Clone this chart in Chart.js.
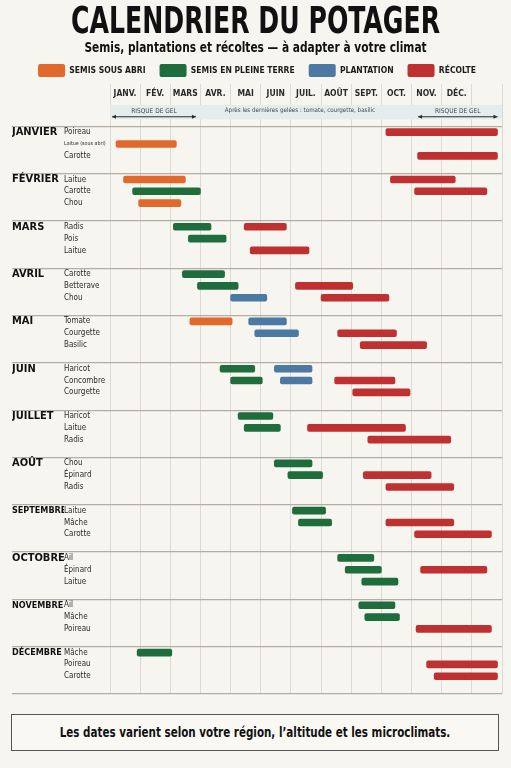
<!DOCTYPE html>
<html lang="fr">
<head>
<meta charset="utf-8">
<title>Calendrier du potager</title>
<script src="https://cdn.jsdelivr.net/npm/chart.js@4.4.1/dist/chart.umd.min.js"></script>
<style>
    body { margin: 0; background: #f7f5ef; font-family: "DejaVu Sans Condensed", "DejaVu Sans", sans-serif; }
    #wrap { position: relative; width: 511px; height: 702px; }
    .head { position: absolute; left: 0; width: 511px; text-align: center; font-weight: bold; color: #111; white-space: nowrap; }
    #title { top: 5px; font-size: 28px; line-height: 32px; transform: scaleY(1.3); }
    #sub { top: 38px; font-size: 11.8px; line-height: 18px; transform: scaleY(1.25); }
    #note {
        position: absolute; left: 11px; top: 714px; width: 486px; height: 35px;
        border: 1.5px solid #555; background: #faf8f3;
        font-size: 11.5px; font-weight: bold;
        color: #111; text-align: center; line-height: 35px;
    }
    #note span { display: inline-block; transform: scaleY(1.2); }
</style>
</head>
<body>
<div id="wrap">
    <canvas id="diagram"></canvas>
    <div class="head" id="title">CALENDRIER DU POTAGER</div>
    <div class="head" id="sub">Semis, plantations et récoltes — à adapter à votre climat</div>
</div>
<div id="note"><span>Les dates varient selon votre région, l’altitude et les microclimats.</span></div>
<script>
const NARROW = '"DejaVu Sans Condensed", "DejaVu Sans", sans-serif';

const months = ['JANV.', 'FÉV.', 'MARS', 'AVR.', 'MAI', 'JUIN', 'JUIL.', 'AOÛT', 'SEPT.', 'OCT.', 'NOV.', 'DÉC.'];
const groups = ['JANVIER', 'FÉVRIER', 'MARS', 'AVRIL', 'MAI', 'JUIN', 'JUILLET', 'AOÛT', 'SEPTEMBRE', 'OCTOBRE', 'NOVEMBRE', 'DÉCEMBRE'];
const crops = [
    ['Poireau', 'Laitue (sous abri)', 'Carotte'],
    ['Laitue', 'Carotte', 'Chou'],
    ['Radis', 'Pois', 'Laitue'],
    ['Carotte', 'Betterave', 'Chou'],
    ['Tomate', 'Courgette', 'Basilic'],
    ['Haricot', 'Concombre', 'Courgette'],
    ['Haricot', 'Laitue', 'Radis'],
    ['Chou', 'Épinard', 'Radis'],
    ['Laitue', 'Mâche', 'Carotte'],
    ['Ail', 'Épinard', 'Laitue'],
    ['Ail', 'Mâche', 'Poireau'],
    ['Mâche', 'Poireau', 'Carotte']
];

// [ligne (0-35), début, fin] en mois depuis le 1er janvier
const semisAbri = [
    [1, 0.2, 2.2], [3, 0.45, 2.5], [5, 0.95, 2.35], [12, 2.65, 4.05]
];
const semisTerre = [
    [4, 0.75, 3.0], [6, 2.1, 3.35], [7, 2.6, 3.85], [9, 2.4, 3.8], [10, 2.9, 4.25],
    [15, 3.65, 4.8], [16, 4.0, 5.05], [18, 4.25, 5.4], [19, 4.45, 5.65],
    [21, 5.45, 6.7], [22, 5.9, 7.05], [24, 6.05, 7.15], [25, 6.25, 7.35],
    [27, 7.55, 8.75], [28, 7.8, 9.0], [29, 8.35, 9.55], [30, 8.25, 9.45], [31, 8.45, 9.6],
    [33, 0.9, 2.05]
];
const plantation = [
    [11, 4.0, 5.2], [12, 4.6, 5.85], [13, 4.8, 6.25], [15, 5.45, 6.7], [16, 5.65, 6.7]
];
const recolte = [
    [0, 9.15, 12.85], [2, 10.2, 12.85], [3, 9.3, 11.45], [4, 10.1, 12.5],
    [6, 4.45, 5.85], [8, 4.65, 6.6], [10, 6.15, 8.05], [11, 7.0, 9.25],
    [13, 7.55, 9.5], [14, 8.3, 10.5], [16, 7.45, 9.45], [17, 8.05, 9.95],
    [19, 6.55, 9.8], [20, 8.55, 11.3], [22, 8.4, 10.65], [23, 9.15, 11.4],
    [25, 9.15, 11.4], [26, 10.1, 12.65], [28, 10.3, 12.5], [32, 10.15, 12.65],
    [34, 10.5, 12.85], [35, 10.75, 12.85]
];

const frostRanges = [[0, 2.85], [10.15, 12.85]];
const frostLabel = 'RISQUE DE GEL';
const afterFrostText = 'Après les dernières gelées : tomate, courgette, basilic';
const afterFrostAt = 6.3;

window.onload = init;

function init() {
    createChart();
}

function rowY(r) {
    return Math.floor(r / 3) * 4 + 1 + (r % 3);
}

function toPoints(list) {
    return list.map(b => ({ y: rowY(b[0]), x: [b[1], b[2]] }));
}

function cropAt(v) {
    if (!Number.isInteger(v) || v < 0 || v % 4 === 0) return '';
    const g = Math.floor(v / 4);
    return crops[g] ? crops[g][(v % 4) - 1] : '';
}

function tickValue(ctx) {
    return ctx && ctx.tick ? ctx.tick.value : -1;
}

function sepColor(ctx) {
    const v = tickValue(ctx);
    return (v >= 0 && v % 4 === 0) ? '#b3aea4' : 'rgba(0,0,0,0)';
}

const frostBand = {
    id: 'frostBand',
    beforeDatasetsDraw(chart) {
        const { ctx, scales: { x, y } } = chart;
        const top = y.getPixelForValue(y.min);
        const bottom = y.getPixelForValue(0) - 1;
        ctx.save();
        ctx.fillStyle = '#e5ecee';
        ctx.fillRect(x.getPixelForValue(0), top, x.getPixelForValue(13) - x.getPixelForValue(0), bottom - top);
        ctx.strokeStyle = '#2b2b2b';
        ctx.lineWidth = 1;
        ctx.textAlign = 'center';
        ctx.textBaseline = 'middle';
        const textY = y.getPixelForValue(-0.8);
        const arrowY = y.getPixelForValue(-0.3);
        ctx.font = '6.5px ' + NARROW;
        frostRanges.forEach(r => {
            const a = x.getPixelForValue(r[0]) + 2;
            const b = x.getPixelForValue(r[1]);
            ctx.fillStyle = '#3f4a52';
            ctx.fillText(frostLabel, (a + b) / 2, textY);
            ctx.beginPath();
            ctx.moveTo(a, arrowY);
            ctx.lineTo(b, arrowY);
            ctx.stroke();
            ctx.fillStyle = '#2b2b2b';
            [[a, 1], [b, -1]].forEach(p => {
                ctx.beginPath();
                ctx.moveTo(p[0], arrowY);
                ctx.lineTo(p[0] + 4 * p[1], arrowY - 2);
                ctx.lineTo(p[0] + 4 * p[1], arrowY + 2);
                ctx.closePath();
                ctx.fill();
            });
        });
        ctx.fillStyle = '#3f4a52';
        ctx.font = '6.2px ' + NARROW;
        ctx.fillText(afterFrostText, x.getPixelForValue(afterFrostAt), textY);
        ctx.restore();
    }
};

function createChart() {
    const ctx = document.getElementById('diagram').getContext('2d');
    const barStyle = { barThickness: 7, borderRadius: 2, borderSkipped: false, grouped: false };

    new Chart(ctx, {
        type: 'bar',
        data: {
            datasets: [
                Object.assign({ label: 'SEMIS SOUS ABRI', data: toPoints(semisAbri), backgroundColor: '#e0692b' }, barStyle),
                Object.assign({ label: 'SEMIS EN PLEINE TERRE', data: toPoints(semisTerre), backgroundColor: '#1f6c3c' }, barStyle),
                Object.assign({ label: 'PLANTATION', data: toPoints(plantation), backgroundColor: '#4b79a2' }, barStyle),
                Object.assign({ label: 'RÉCOLTE', data: toPoints(recolte), backgroundColor: '#bf3131' }, barStyle)
            ]
        },
        plugins: [frostBand],
        options: {
            indexAxis: 'y',
            responsive: true,
            maintainAspectRatio: false,
            animation: false,
            layout: { padding: { top: 50, left: 12, right: 9, bottom: 8 } },
            plugins: {
                title: { display: false },
                legend: {
                    labels: {
                        boxWidth: 27,
                        boxHeight: 13,
                        padding: 14,
                        color: '#1a1a1a',
                        useBorderRadius: true,
                        borderRadius: 2,
                        font: { family: NARROW, size: 8.5, weight: 'bold' }
                    }
                },
                tooltip: { enabled: false }
            },
            scales: {
                x: {
                    type: 'linear',
                    position: 'top',
                    min: 0,
                    max: 13,
                    border: { display: false },
                    grid: { color: '#dedad1', tickLength: 15 },
                    ticks: {
                        stepSize: 1,
                        autoSkip: false,
                        maxRotation: 0,
                        labelOffset: 15,
                        padding: -15,
                        color: '#2a2a2a',
                        font: { family: NARROW, size: 8.5, weight: 'bold' },
                        callback: v => months[v] || ''
                    },
                    afterFit(axis) { axis.height = 12; }
                },
                y: {
                    type: 'linear',
                    position: 'left',
                    weight: 0,
                    reverse: true,
                    min: -1.3,
                    max: 48,
                    border: { display: false },
                    grid: { color: sepColor, lineWidth: 1.2, tickLength: 46 },
                    ticks: {
                        stepSize: 1,
                        autoSkip: false,
                        crossAlign: 'far',
                        padding: 0,
                        color: '#2b2b2b',
                        font: c => ({ family: NARROW, size: cropAt(tickValue(c)).length > 12 ? 5.3 : 8 }),
                        callback: v => cropAt(v)
                    },
                    afterFit(axis) { axis.width = 46; }
                },
                y2: {
                    type: 'linear',
                    position: 'left',
                    weight: 1,
                    reverse: true,
                    min: -1.3,
                    max: 48,
                    border: { display: false },
                    grid: { color: sepColor, lineWidth: 1.2, tickLength: 52, drawOnChartArea: false },
                    ticks: {
                        stepSize: 1,
                        autoSkip: false,
                        crossAlign: 'far',
                        padding: 0,
                        color: '#111',
                        font: c => {
                            const g = groups[Math.floor(tickValue(c) / 4)] || '';
                            return { family: NARROW, size: g.length > 7 ? 9 : 11, weight: 'bold' };
                        },
                        callback: v => (Number.isInteger(v) && v % 4 === 1) ? groups[(v - 1) / 4] : ''
                    },
                    afterFit(axis) { axis.width = 52; }
                }
            }
        }
    });
}
</script>
</body>
</html>
